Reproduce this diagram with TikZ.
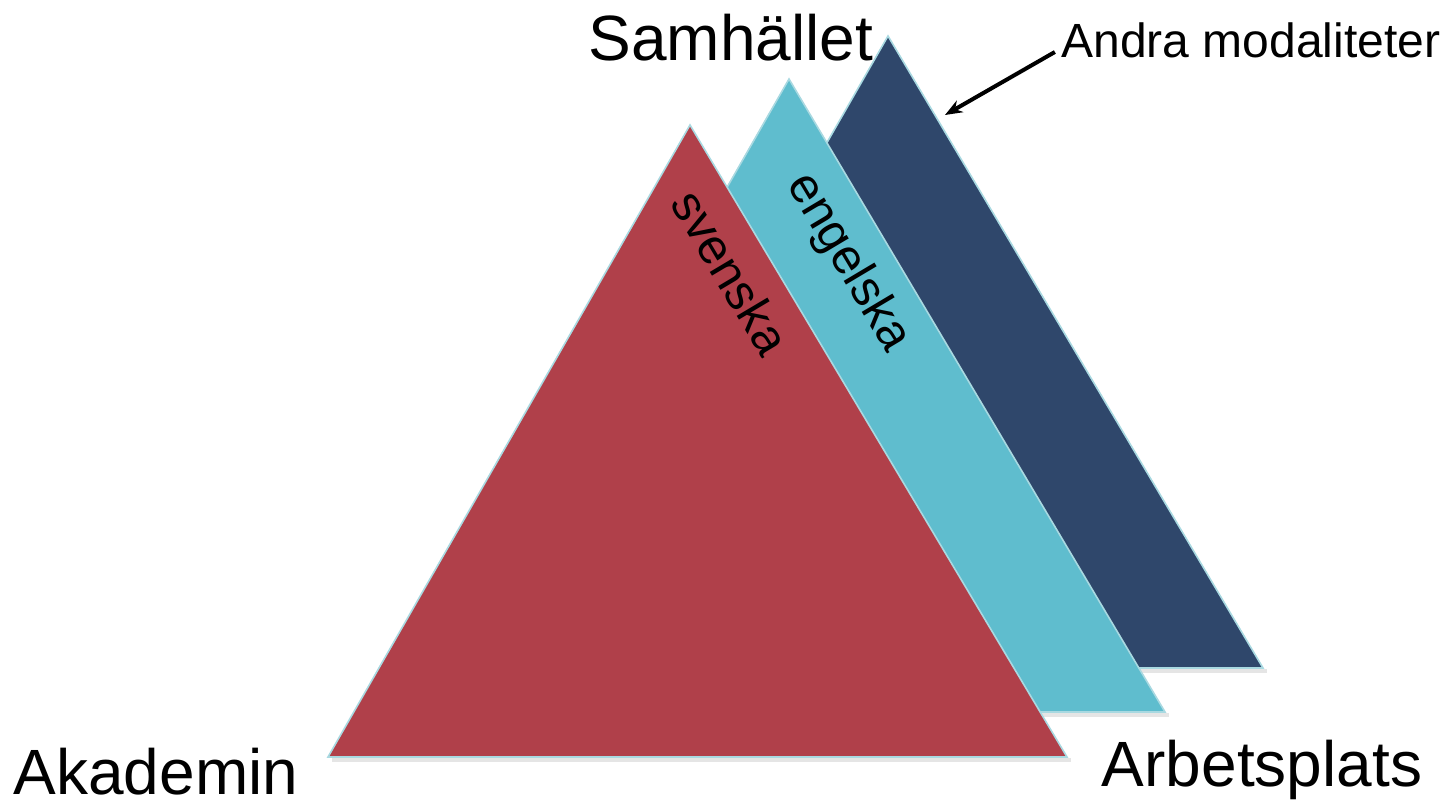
\documentclass[tikz,border=0pt]{standalone}
\usepackage{fontspec}
\setmainfont{Liberation Sans}
\usepackage{tikz}
\usetikzlibrary{arrows.meta}
\definecolor{svred}{HTML}{B0404A}
\definecolor{encyan}{HTML}{5FBDCE}
\definecolor{modnavy}{HTML}{2F476B}
\definecolor{rim}{HTML}{A9D9E1}
\tikzset{
  lager/.style={draw=rim, line width=1.2pt, line join=miter},
  skugga/.style={fill=black!10},
  hörn/.style={font=\fontsize{48}{56}\selectfont},
  språk/.style={font=\fontsize{37}{44}\selectfont, rotate=-59.2}
}

\begin{document}
\begin{tikzpicture}[x=0.75pt, y=-0.75pt, >={Stealth[length=13pt, width=10pt]}]
                \useasboundingbox (0,0) rectangle (1453,806);
                % triangle corners, one layer behind the other
                \coordinate (A3) at (888,36);
                \coordinate (B3) at (526,668);
                \coordinate (C3) at (1263,668);
                \coordinate (A2) at (789,79);
                \coordinate (B2) at (427,712);
                \coordinate (C2) at (1165,712);
                \coordinate (A1) at (690,125);
                \coordinate (B1) at (328,757);
                \coordinate (C1) at (1067,757);
                
                \fill[skugga] (B3) ++(4,1) rectangle ([xshift=3pt, yshift=-4pt]C3);
                \fill[modnavy, lager] (A3) -- (B3) -- (C3) -- cycle;
                \fill[skugga] (B2) ++(4,1) rectangle ([xshift=3pt, yshift=-4pt]C2);
                \fill[encyan, lager] (A2) -- (B2) -- (C2) -- cycle;
                \fill[skugga] (B1) ++(4,1) rectangle ([xshift=3pt, yshift=-4pt]C1);
                \fill[svred, lager] (A1) -- (B1) -- (C1) -- cycle;
                
                \node[språk] (sv) at (731,272) {svenska};
                \node[språk] (en) at (848,263) {engelska};
                
                \node[hörn] (sam) at (731,38) {Samhället};
                \node[hörn] (aka) at (156,772) {Akademin};
                \node[hörn] (arb) at (1262,770) {Arbetsplats};
                
                \node[font=\fontsize{36}{42}\selectfont] (andra) at (1251,40) {Andra modaliteter};
                \coordinate (spets) at (945,115);
                \draw[->, line width=3pt] (andra.west) ++(-2,12) -- (spets);
            \end{tikzpicture}
\end{document}
